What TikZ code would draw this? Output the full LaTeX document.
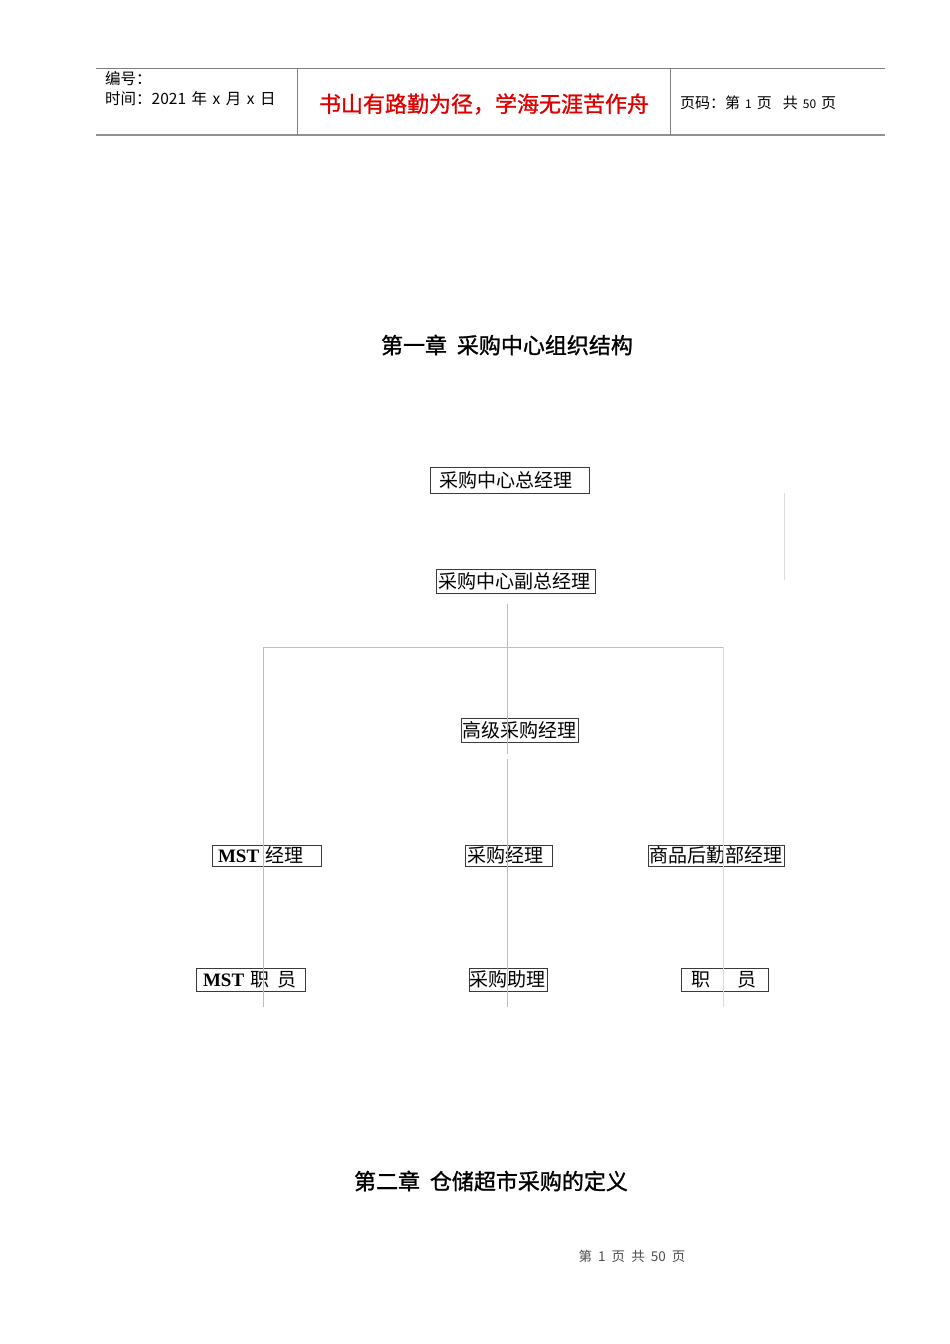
\documentclass[tikz,border=0pt]{standalone}
\usepackage{fontspec}
\usepackage{tikz}
\usetikzlibrary{positioning}
\setmainfont{Liberation Serif}
\newfontfamily\cjk{Noto Sans CJK SC}
\newfontfamily\cjkheavy[FakeBold=1.2]{Noto Sans CJK SC}
\newfontfamily\tnr{Liberation Serif}
\definecolor{Rule}{HTML}{7F7F7F}
\definecolor{Link}{HTML}{BDBDBD}
\definecolor{LinkPale}{HTML}{DCDCDC}
\definecolor{BoxLine}{HTML}{3A3A3A}
\definecolor{Motto}{HTML}{E00000}
\definecolor{Foot}{HTML}{4D4D4D}
\tikzset{
  post/.style 2 args={draw=BoxLine, line width=0.8pt, text width=#1, inner xsep=#2,
              inner ysep=0pt, align=left, font=\cjk\fontsize{19}{19}\selectfont},
  link/.style={draw=Link, line width=0.8pt},
  linkpale/.style={link, draw=LinkPale},
  rule/.style={draw=Rule, line width=0.8pt},
  head/.style={font=\cjk\fontsize{15.5}{15.5}\selectfont, inner sep=0pt, anchor=west},
  chapter/.style={font=\cjkheavy\fontsize{22}{22}\selectfont, inner sep=0pt},
}
\newcommand{\smalldigit}[1]{{\fontsize{12}{12}\selectfont #1}}

\begin{document}
\begin{tikzpicture}[x=1pt, y=-1pt]
  \useasboundingbox (0,0) rectangle (950,1344);

  \draw[rule] (96,68) -- (885,68);
  \draw[rule, line width=1.6pt, draw=Rule!85] (96,135) -- (885,135);
  \draw[rule] (297,68) -- (297,135);
  \draw[rule] (670,68) -- (670,135);
  \node[head] (serial) at (105,79) {编号：};
  \node[head] (date) at (105,99)
    {时间：2021\hspace{5.5pt}年\hspace{5.5pt}x\hspace{5.5pt}月\hspace{5.5pt}x\hspace{5.5pt}日};
  \node[font=\cjkheavy\fontsize{22}{22}\selectfont, text=Motto, inner sep=0pt]
    (motto) at (484,104) {书山有路勤为径，学海无涯苦作舟};
  \node[head, font=\cjk\fontsize{15}{15}\selectfont] (pageno) at (680,103)
    {页码：第\hspace{5pt}\smalldigit{1}\hspace{5pt}页\hspace{11pt}共\hspace{5pt}\smalldigit{50}\hspace{5pt}页};

  \node[chapter] (chone) at (507,345) {第一章\ \ 采购中心组织结构};

  \node[post={141pt}{9pt}, minimum height=26pt] (gm) at (509.5,480) {采购中心总经理};
  \node[post={155pt}{2pt}, minimum height=24pt] (vgm) at (515.5,581) {采购中心副总经理};
  \node[post={115pt}{1pt}, minimum height=24pt] (senior) at (519.5,730) {高级采购经理};
  \node[post={97pt}{6pt}, minimum height=21pt] (mstmgr) at (266.5,855.5)
    {{\tnr\bfseries MST} 经理};
  \node[post={83pt}{2pt}, minimum height=21pt] (buymgr) at (508.5,855.5) {采购经理};
  \node[post={134pt}{1pt}, minimum height=21pt] (logmgr) at (716,855.5) {商品后勤部经理};
  \node[post={95pt}{7pt}, minimum height=23pt] (mststaff) at (250.5,979.5)
    {{\tnr\bfseries MST} 职\hspace{8pt}员};
  \node[post={77pt}{0.5pt}, minimum height=23pt] (buyasst) at (508,979.5) {采购助理};
  \node[post={67pt}{10pt}, minimum height=23pt] (logstaff) at (724.5,979.5)
    {职\hspace{28pt}员};

  \coordinate (spineTop) at (507,604);
  \coordinate (spineGapA) at (507,754);
  \coordinate (spineGapB) at (507,759);
  \coordinate (spineEnd) at (507,1007);
  \coordinate (barL) at (263,647);
  \coordinate (barR) at (723,647);
  \coordinate (leftEnd) at (263,1007);
  \coordinate (rightEnd) at (723,1007);
  \coordinate (strayTop) at (784,493);
  \coordinate (strayEnd) at (784,580);
  \draw[link] (spineTop) -- (spineGapA);
  \draw[link] (spineGapB) -- (spineEnd);
  \draw[link] (barL) -- (barR);
  \draw[link] (barL) -- (leftEnd);
  \draw[linkpale] (barR) -- (rightEnd);
  \draw[linkpale] (strayTop) -- (strayEnd);

  \node[chapter] (chtwo) at (491,1181) {第二章\ \ 仓储超市采购的定义};
  \node[font=\cjk\fontsize{13.5}{13.5}\selectfont, text=Foot, inner sep=0pt] (foot) at (632,1256)
    {第\ \ 1\ \ 页\ \ 共\ \ 50\ \ 页};
\end{tikzpicture}
\end{document}
